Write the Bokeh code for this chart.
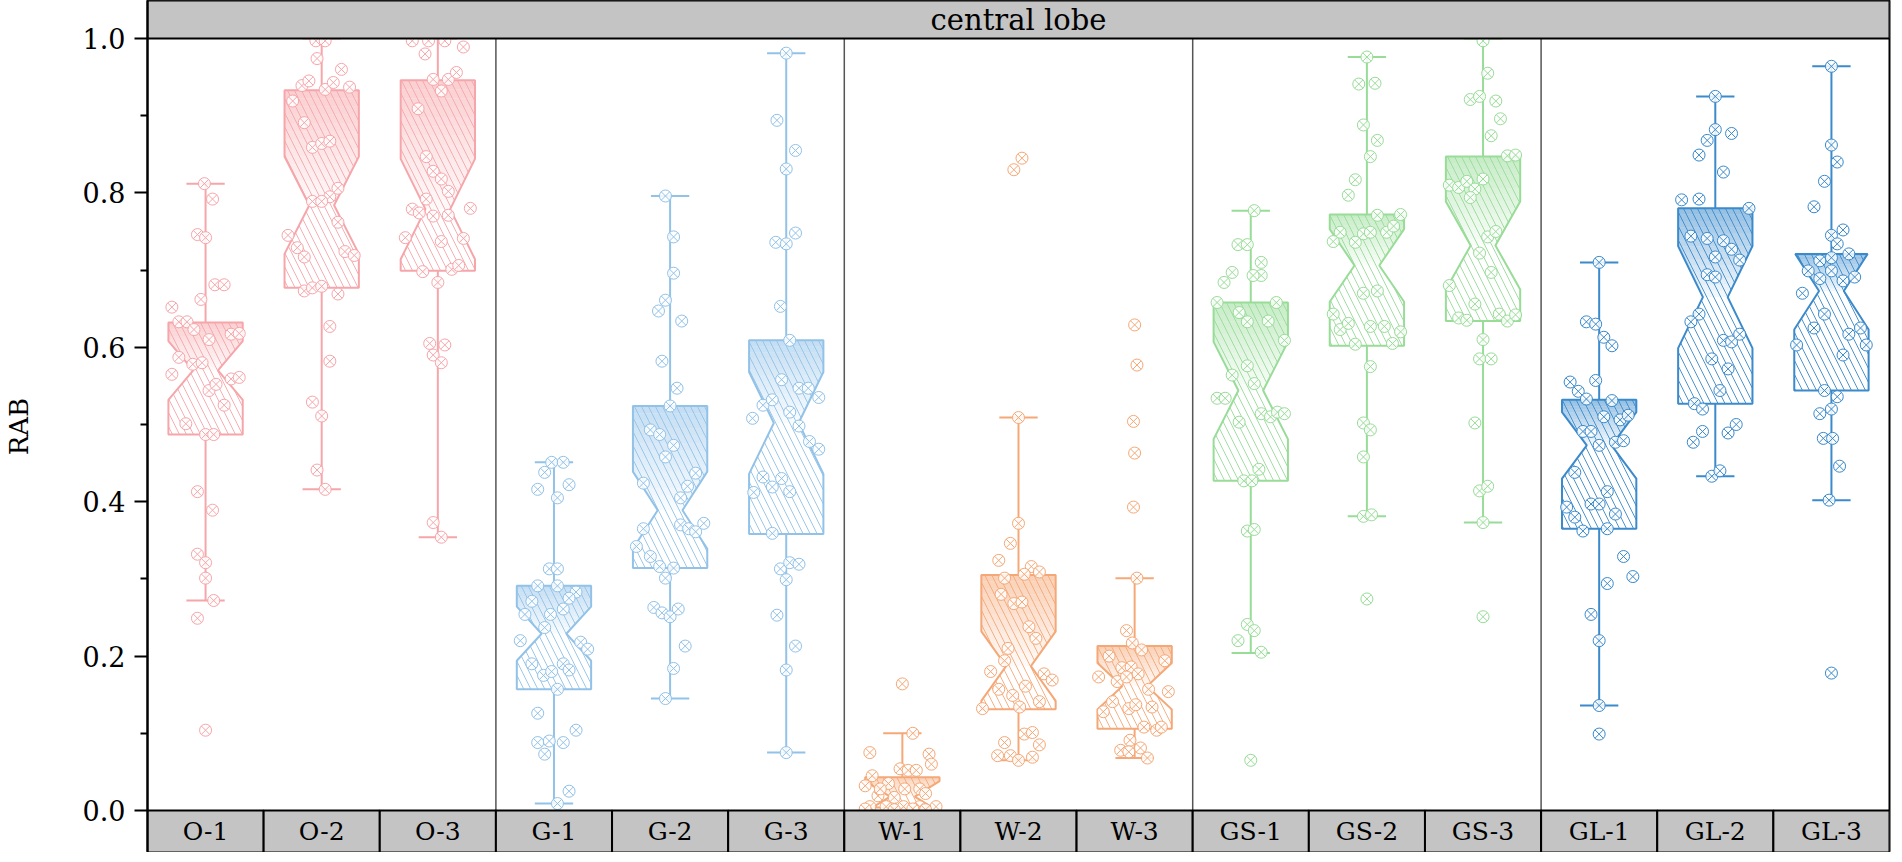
from bokeh.plotting import figure
from bokeh.models import Range1d, FixedTicker, PrintfTickFormatter
from bokeh.core.properties import value
from bokeh.embed import file_html
from bokeh.resources import INLINE

# ---------------- data ----------------
categories = ["O-1", "O-2", "O-3", "G-1", "G-2", "G-3", "W-1", "W-2", "W-3",
              "GS-1", "GS-2", "GS-3", "GL-1", "GL-2", "GL-3"]
group_sizes = [3, 3, 3, 3, 3]
panel_title = "central lobe"
y_label = "RAB"

whisker_hi = [0.812, 1.0, 1.0, 0.451, 0.796, 0.981, 0.100, 0.509, 0.301, 0.777, 0.976, 1.0, 0.710, 0.925, 0.964]
q3 = [0.632, 0.933, 0.946, 0.291, 0.524, 0.609, 0.043, 0.305, 0.213, 0.658, 0.772, 0.847, 0.532, 0.780, 0.721]
median = [0.570, 0.784, 0.779, 0.229, 0.389, 0.502, 0.018, 0.187, 0.161, 0.544, 0.706, 0.732, 0.473, 0.665, 0.673]
q1 = [0.487, 0.677, 0.699, 0.157, 0.314, 0.358, 0.004, 0.131, 0.106, 0.427, 0.602, 0.634, 0.365, 0.527, 0.544]
whisker_lo = [0.272, 0.416, 0.354, 0.009, 0.145, 0.075, 0.0, 0.065, 0.068, 0.204, 0.381, 0.373, 0.136, 0.433, 0.402]
notch = [0.038, 0.063, 0.065, 0.035, 0.050, 0.066, 0.020, 0.045, 0.030, 0.063, 0.047, 0.057, 0.043, 0.066, 0.050]

O1 = [0.812, 0.792, 0.746, 0.742, 0.681, 0.681, 0.662, 0.652, 0.633, 0.633, 0.623, 0.610, 0.617, 0.618, 0.587, 0.578, 0.580,
      0.565, 0.559, 0.561, 0.544, 0.552, 0.525, 0.501, 0.487, 0.487, 0.413, 0.389, 0.332, 0.321, 0.301, 0.272, 0.249, 0.104]
O1_jit = [-0.01, 0.06, -0.07, 0.0, 0.08, 0.16, -0.04, -0.29, -0.23, -0.16, -0.10, 0.03, 0.22, 0.29, -0.23, -0.11, -0.03,
          -0.29, 0.22, 0.29, 0.03, 0.09, 0.16, -0.17, 0.0, 0.07, -0.07, 0.06, -0.07, 0.0, 0.0, 0.07, -0.07, 0.0]
O2 = [0.997, 0.997, 0.974, 0.960, 0.939, 0.945, 0.934, 0.943, 0.937, 0.919, 0.891, 0.859, 0.864, 0.867, 0.795, 0.806, 0.789,
      0.789, 0.762, 0.745, 0.729, 0.717, 0.724, 0.719, 0.673, 0.677, 0.679, 0.669, 0.627, 0.582, 0.529, 0.511, 0.441, 0.416]
O2_jit = [-0.05, 0.03, -0.04, 0.17, -0.17, -0.11, 0.03, 0.10, 0.24, -0.25, -0.15, -0.08, 0.0, 0.07, 0.07, 0.14, -0.08,
          0.0, 0.14, -0.29, -0.21, -0.15, 0.20, 0.28, -0.15, -0.08, 0.0, 0.14, 0.07, 0.07, -0.08, 0.0, -0.04, 0.03]
O3 = [0.997, 0.997, 0.997, 0.989, 0.980, 0.947, 0.932, 0.947, 0.956, 0.909, 0.847, 0.828, 0.818, 0.802, 0.792, 0.779, 0.774,
      0.770, 0.771, 0.780, 0.742, 0.737, 0.741, 0.698, 0.701, 0.706, 0.684, 0.605, 0.603, 0.590, 0.580, 0.373, 0.354]
O3_jit = [-0.22, -0.08, 0.06, 0.22, -0.11, -0.04, 0.03, 0.09, 0.16, -0.17, -0.10, -0.04, 0.03, 0.09, -0.10, -0.22, -0.16,
          -0.04, 0.09, 0.28, -0.28, 0.03, 0.22, -0.13, 0.12, 0.18, 0.0, -0.07, 0.06, -0.04, 0.03, -0.04, 0.03]
G1 = [0.451, 0.451, 0.438, 0.416, 0.422, 0.405, 0.313, 0.313, 0.291, 0.291, 0.283, 0.271, 0.275, 0.254, 0.254, 0.261, 0.237,
      0.220, 0.218, 0.209, 0.190, 0.175, 0.180, 0.190, 0.182, 0.157, 0.126, 0.088, 0.090, 0.088, 0.104, 0.073, 0.025, 0.009]
G1_jit = [-0.02, 0.08, -0.08, -0.14, 0.13, 0.03, -0.04, 0.03, -0.14, 0.03, 0.19, -0.19, 0.13, -0.25, -0.03, 0.08, -0.08,
          -0.29, 0.23, 0.29, -0.19, -0.09, -0.02, 0.08, 0.13, 0.03, -0.14, -0.14, -0.04, 0.08, 0.19, -0.08, 0.13, 0.03]
G2 = [0.796, 0.743, 0.696, 0.661, 0.647, 0.634, 0.582, 0.547, 0.524, 0.493, 0.487, 0.473, 0.458, 0.437, 0.420, 0.424, 0.405,
      0.365, 0.370, 0.365, 0.361, 0.372, 0.342, 0.329, 0.316, 0.314, 0.301, 0.263, 0.256, 0.251, 0.261, 0.213, 0.184, 0.145]
G2_jit = [-0.04, 0.03, 0.03, -0.04, -0.10, 0.10, -0.07, 0.06, 0.0, -0.17, -0.09, 0.03, -0.04, 0.22, 0.15, -0.23, 0.09,
          -0.23, 0.09, 0.16, 0.22, 0.29, -0.29, -0.17, -0.09, 0.03, -0.04, -0.14, -0.07, 0.0, 0.07, 0.13, 0.03, -0.04]
G3 = [0.981, 0.894, 0.855, 0.831, 0.736, 0.734, 0.748, 0.653, 0.609, 0.558, 0.547, 0.547, 0.535, 0.525, 0.532, 0.508, 0.516,
      0.498, 0.478, 0.468, 0.432, 0.419, 0.430, 0.413, 0.412, 0.359, 0.313, 0.321, 0.319, 0.299, 0.253, 0.213, 0.182, 0.075]
G3_jit = [0.0, -0.08, 0.08, 0.0, -0.09, 0.0, 0.08, -0.05, 0.03, -0.04, 0.11, 0.19, 0.28, -0.20, -0.12, -0.29, 0.03,
          0.11, 0.20, 0.28, -0.20, -0.12, -0.04, 0.03, -0.28, -0.12, -0.05, 0.03, 0.11, 0.0, -0.08, 0.08, 0.0, 0.0]
W1 = [0.164, 0.100, 0.075, 0.073, 0.060, 0.054, 0.052, 0.052, 0.045, 0.032, 0.035, 0.028, 0.028, 0.019, 0.017, 0.022,
      0.005, 0.005, 0.005, 0.005, 0.005, 0.002, 0.002, 0.028, 0.001, 0.001]
W1_jit = [0.0, 0.09, -0.28, 0.23, 0.25, -0.02, 0.05, 0.12, -0.26, -0.32, -0.12, 0.02, 0.15, -0.21, -0.07, 0.20,
          -0.28, -0.14, 0.01, 0.15, 0.29, -0.32, 0.09, -0.19, -0.07, 0.20]
W2 = [0.845, 0.830, 0.509, 0.372, 0.346, 0.324, 0.301, 0.316, 0.309, 0.306, 0.280, 0.268, 0.270, 0.238, 0.223, 0.210, 0.194,
      0.180, 0.177, 0.169, 0.157, 0.161, 0.149, 0.141, 0.132, 0.134, 0.088, 0.099, 0.101, 0.071, 0.071, 0.085, 0.065, 0.069]
W2_jit = [0.03, -0.04, 0.0, 0.0, -0.07, -0.17, -0.12, 0.11, 0.18, 0.05, -0.15, -0.04, 0.03, 0.09, 0.15, -0.09, -0.12,
          -0.24, 0.22, 0.29, -0.17, 0.06, -0.05, 0.18, -0.31, 0.01, -0.12, 0.05, 0.12, -0.18, -0.07, 0.18, 0.0, 0.12]
W3 = [0.629, 0.577, 0.504, 0.463, 0.393, 0.301, 0.233, 0.217, 0.208, 0.200, 0.194, 0.185, 0.186, 0.173, 0.167, 0.173,
      0.177, 0.154, 0.157, 0.141, 0.132, 0.137, 0.134, 0.128, 0.108, 0.104, 0.108, 0.091, 0.078, 0.076, 0.081, 0.068]
W3_jit = [0.0, 0.02, -0.01, 0.0, -0.01, 0.02, -0.07, -0.02, 0.06, -0.22, 0.26, -0.11, -0.03, -0.31, -0.15, -0.07,
          0.03, 0.29, 0.12, -0.19, -0.05, 0.01, 0.15, -0.27, 0.08, 0.19, 0.23, -0.04, -0.12, -0.05, 0.05, 0.11]
GS1 = [0.777, 0.733, 0.733, 0.710, 0.693, 0.697, 0.684, 0.693, 0.658, 0.658, 0.645, 0.633, 0.634, 0.609, 0.576, 0.564, 0.553,
       0.534, 0.534, 0.514, 0.510, 0.516, 0.514, 0.503, 0.442, 0.427, 0.427, 0.362, 0.364, 0.241, 0.233, 0.220, 0.205, 0.065]
GS1_jit = [0.03, -0.11, -0.03, 0.09, 0.09, -0.16, -0.23, 0.02, -0.29, 0.22, -0.10, -0.03, 0.15, 0.29, -0.03, -0.16, 0.03,
           -0.29, -0.22, 0.09, 0.17, 0.23, 0.29, -0.10, 0.07, -0.06, 0.01, -0.03, 0.03, -0.03, 0.03, -0.11, 0.09, 0.0]
GS2 = [0.976, 0.941, 0.942, 0.888, 0.868, 0.847, 0.817, 0.797, 0.771, 0.772, 0.749, 0.737, 0.747, 0.749, 0.736, 0.749, 0.757,
       0.670, 0.673, 0.643, 0.623, 0.631, 0.627, 0.627, 0.620, 0.604, 0.605, 0.575, 0.502, 0.493, 0.458, 0.381, 0.383, 0.274]
GS2_jit = [0.0, -0.07, 0.07, -0.03, 0.09, 0.03, -0.10, -0.16, 0.09, 0.29, -0.23, -0.29, -0.03, 0.03, -0.10, 0.17, 0.23,
           -0.03, 0.09, -0.29, -0.23, -0.16, 0.03, 0.15, 0.29, -0.10, 0.22, 0.03, -0.03, 0.03, -0.03, -0.03, 0.04, 0.0]
GS3 = [0.997, 0.955, 0.921, 0.925, 0.919, 0.896, 0.874, 0.848, 0.849, 0.810, 0.807, 0.815, 0.805, 0.818, 0.794, 0.743, 0.750,
       0.722, 0.697, 0.680, 0.656, 0.638, 0.635, 0.643, 0.634, 0.642, 0.610, 0.585, 0.585, 0.502, 0.414, 0.420, 0.373, 0.251]
GS3_jit = [0.0, 0.04, -0.11, -0.03, 0.11, 0.15, 0.07, 0.21, 0.28, -0.29, -0.21, -0.14, -0.07, 0.0, -0.11, 0.04, 0.11,
           -0.03, 0.07, -0.29, -0.07, -0.21, -0.14, 0.14, 0.21, 0.28, 0.0, -0.03, 0.07, -0.07, -0.03, 0.04, 0.0, 0.0]
GL1 = [0.710, 0.633, 0.630, 0.613, 0.602, 0.557, 0.555, 0.543, 0.533, 0.531, 0.510, 0.506, 0.512, 0.491, 0.491, 0.473, 0.477,
       0.479, 0.438, 0.413, 0.393, 0.397, 0.397, 0.384, 0.380, 0.362, 0.365, 0.329, 0.303, 0.294, 0.254, 0.220, 0.136, 0.099]
GL1_jit = [0.0, -0.11, -0.03, 0.04, 0.11, -0.03, -0.25, -0.18, -0.11, 0.11, 0.04, 0.18, 0.25, -0.14, -0.07, 0.0, 0.14,
           0.21, -0.21, 0.07, -0.28, -0.07, 0.0, 0.14, -0.21, -0.14, 0.07, 0.21, 0.29, 0.07, -0.07, 0.0, 0.0, 0.0]
GL2 = [0.925, 0.882, 0.868, 0.849, 0.877, 0.827, 0.791, 0.792, 0.780, 0.744, 0.741, 0.738, 0.727, 0.713, 0.717, 0.694, 0.691,
       0.643, 0.633, 0.609, 0.607, 0.617, 0.585, 0.572, 0.544, 0.527, 0.520, 0.491, 0.477, 0.489, 0.500, 0.433, 0.440]
GL2_jit = [0.0, 0.0, -0.07, -0.14, 0.14, 0.07, -0.29, -0.14, 0.29, -0.21, -0.07, 0.07, 0.14, 0.21, 0.0, -0.07, 0.0,
           -0.14, -0.21, 0.07, 0.14, 0.21, -0.03, 0.11, 0.04, -0.18, -0.11, -0.11, -0.19, 0.11, 0.18, -0.03, 0.04]
GL3 = [0.964, 0.862, 0.840, 0.815, 0.782, 0.745, 0.752, 0.734, 0.721, 0.712, 0.716, 0.699, 0.689, 0.699, 0.686, 0.691, 0.670,
       0.643, 0.625, 0.603, 0.617, 0.625, 0.603, 0.590, 0.544, 0.536, 0.514, 0.520, 0.482, 0.482, 0.446, 0.402, 0.178]
GL3_jit = [0.0, 0.0, 0.05, -0.06, -0.15, 0.0, 0.10, 0.05, 0.15, -0.10, 0.0, -0.20, -0.10, 0.0, 0.10, 0.20, -0.25,
           -0.06, -0.15, -0.30, 0.15, 0.25, 0.30, 0.10, -0.06, 0.05, -0.10, 0.0, -0.07, 0.01, 0.07, -0.02, 0.0]

points = [O1, O2, O3, G1, G2, G3, W1, W2, W3, GS1, GS2, GS3, GL1, GL2, GL3]
jitters = [O1_jit, O2_jit, O3_jit, G1_jit, G2_jit, G3_jit, W1_jit, W2_jit, W3_jit,
           GS1_jit, GS2_jit, GS3_jit, GL1_jit, GL2_jit, GL3_jit]

# ---------------- style ----------------
group_colors = ["#F6A6AA", "#92C2E8", "#F5A877", "#98DC98", "#3B8ACB"]
colors = [c for c, n in zip(group_colors, group_sizes) for _ in range(n)]
FONT_NAME = "DejaVu Serif"
FONT = value(FONT_NAME)
GRAY = "#C4C4C4"
BOX_HALF = 0.32
WAIST_HALF = BOX_HALF / 3.0
CAP_HALF = 0.165

N = len(categories)
LEFT = 140
RIGHT = 4
FRAME_W = 1749
W_TOTAL = LEFT + FRAME_W + RIGHT
DATA_H = 772      # pixels for the 0..1 data span
HEADER_H = 38     # pixels of the grey title strip
BAND_H = 42       # pixels of the grey category strip
Y_TOP = 1.0 + HEADER_H / DATA_H
Y_BOT = -BAND_H / DATA_H


def half_width(y, med, nw):
    if nw <= 0:
        return BOX_HALF
    d = abs(y - med)
    if d >= nw:
        return BOX_HALF
    return WAIST_HALF + (BOX_HALF - WAIST_HALF) * d / nw


def box_outline(c, lo, med, hi, nw):
    ys = [lo]
    if med - nw > lo:
        ys.append(med - nw)
    ys.append(med)
    if med + nw < hi:
        ys.append(med + nw)
    ys.append(hi)
    xs_l = [c - half_width(y, med, nw) for y in ys]
    xs_r = [c + half_width(y, med, nw) for y in reversed(ys)]
    return xs_l + xs_r, ys + list(reversed(ys))


p = figure(width=W_TOTAL, height=HEADER_H + DATA_H + BAND_H, output_backend="svg", toolbar_location=None,
           x_range=Range1d(0, N), y_range=Range1d(Y_BOT, Y_TOP),
           x_axis_location=None, min_border_left=LEFT, min_border_right=RIGHT,
           min_border_top=0, min_border_bottom=0)
p.xgrid.visible = False
p.ygrid.visible = False
p.outline_line_color = "black"
p.outline_line_width = 2
p.outline_line_alpha = 1

ax = p.yaxis[0]
ax.ticker = FixedTicker(ticks=[0.0, 0.2, 0.4, 0.6, 0.8, 1.0], minor_ticks=[0.1, 0.3, 0.5, 0.7, 0.9])
ax.formatter = PrintfTickFormatter(format="%.1f")
ax.axis_line_color = "black"
ax.axis_line_width = 2
ax.major_tick_line_color = "black"
ax.major_tick_line_width = 2
ax.major_tick_out = 13
ax.major_tick_in = 0
ax.minor_tick_line_color = "black"
ax.minor_tick_line_width = 2
ax.minor_tick_out = 7
ax.minor_tick_in = 0
ax.major_label_text_font = FONT_NAME
ax.major_label_text_font_size = "27px"
ax.major_label_text_color = "black"
ax.major_label_standoff = 9
ax.axis_label = y_label
ax.axis_label_text_font = FONT_NAME
ax.axis_label_text_font_style = "normal"
ax.axis_label_text_font_size = "26px"
ax.axis_label_text_color = "black"
ax.axis_label_standoff = 46

# group separators (inside the data span only)
seps = []
pos = 0
for n in group_sizes[:-1]:
    pos += n
    seps.append(pos)
p.segment(x0=seps, y0=[0] * len(seps), x1=seps, y1=[1.0] * len(seps), line_color="#555555", line_width=1.5)

for i in range(N):
    c = i + 0.5
    col = colors[i]
    p.segment(x0=[c, c], y0=[q3[i], q1[i]], x1=[c, c], y1=[whisker_hi[i], whisker_lo[i]],
              line_color=col, line_width=2)
    p.segment(x0=[c - CAP_HALF, c - CAP_HALF], y0=[whisker_hi[i], whisker_lo[i]],
              x1=[c + CAP_HALF, c + CAP_HALF], y1=[whisker_hi[i], whisker_lo[i]],
              line_color=col, line_width=2)
    med, top, nw = median[i], q3[i], notch[i]
    k = 14
    ys = [med + (top - med) * j / k for j in range(k + 1)]
    if med + nw < top:
        ys.append(med + nw)
    ys = sorted(set(ys))
    sx, sy, sa = [], [], []
    for ya, yb in zip(ys[:-1], ys[1:]):
        ha, hb = half_width(ya, med, nw), half_width(yb, med, nw)
        sx.append([c - ha, c - hb, c + hb, c + ha])
        sy.append([ya, yb, yb, ya])
        frac = ((ya + yb) / 2 - med) / max(top - med, 1e-9)
        sa.append(0.05 + 0.5 * frac)
    p.patches(xs=sx, ys=sy, fill_color=col, fill_alpha=sa, line_alpha=0)
    bx, by = box_outline(c, q1[i], med, top, nw)
    p.patch(x=bx, y=by, fill_alpha=0, line_color=col, line_width=2,
            hatch_pattern="\\", hatch_color=col, hatch_weight=1, hatch_scale=14, hatch_alpha=0.9)

for i in range(N):
    c = i + 0.5
    vals = points[i]
    jit = list(jitters[i]) + [0.0] * max(0, len(vals) - len(jitters[i]))
    xs = [c + j for j in jit[:len(vals)]]
    p.scatter(x=xs, y=vals, marker="circle_x", size=12, fill_color="white", fill_alpha=0.85,
              line_color=colors[i], line_width=1)

# grey title strip on top
p.quad(left=[0], right=[N], bottom=[1.0], top=[Y_TOP], fill_color=GRAY, line_color="black", line_width=2)
p.text(x=[N / 2], y=[(1.0 + Y_TOP) / 2], text=[panel_title], text_font=FONT, text_font_size="29px",
       text_align="center", text_baseline="middle", text_color="black")

# grey category strip at the bottom
p.quad(left=list(range(N)), right=[i + 1 for i in range(N)], bottom=[Y_BOT] * N, top=[0] * N,
       fill_color=GRAY, line_color="black", line_width=2)
p.text(x=[i + 0.5 for i in range(N)], y=[Y_BOT / 2] * N, text=categories, text_font=FONT,
       text_font_size="25px", text_align="center", text_baseline="middle", text_color="black")

open("out.html", "w").write(file_html(p, INLINE))
